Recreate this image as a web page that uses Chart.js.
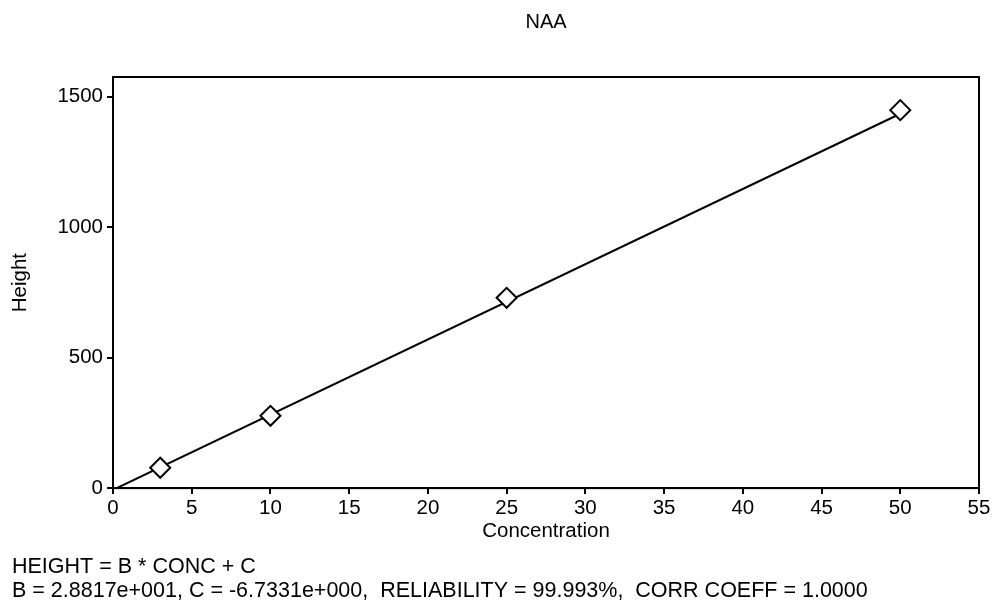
<!DOCTYPE html>
<html>
<head>
<meta charset="utf-8">
<title>NAA</title>
<script src="https://cdn.jsdelivr.net/npm/chart.js@4/dist/chart.umd.min.js"></script>
<style>
  html, body { margin: 0; padding: 0; background: #fff; }
  #wrap { width: 1000px; height: 607px; position: relative; }
</style>
</head>
<body>
<div id="wrap"><canvas id="graphCanvas"></canvas></div>
<script>
// calibration standards
var concentration = [3, 10, 25, 50];
var height = [78, 277, 729, 1448];

// fitted line HEIGHT = B * CONC + C
var B = 28.817;
var C = -6.7331;
var fitRange = [0, 50];

var xTicks = [0, 5, 10, 15, 20, 25, 30, 35, 40, 45, 50, 55];
var yTicks = [0, 500, 1000, 1500];

var footerLines = [
    'HEIGHT = B * CONC + C',
    'B = 2.8817e+001, C = -6.7331e+000,  RELIABILITY = 99.993%,  CORR COEFF = 1.0000'
];

var FONT = "'Liberation Sans', Arial, sans-serif";

var points = [];
for (var i in concentration) {
    points.push({ x: concentration[i], y: height[i] });
}
var fitLine = [];
for (var j in fitRange) {
    fitLine.push({ x: fitRange[j], y: B * fitRange[j] + C });
}

// box round the plot area (top and right sides aren't drawn by the scales)
var frame = {
    id: 'frame',
    afterDatasetsDraw: function (chart) {
        var a = chart.chartArea;
        var ctx = chart.ctx;
        ctx.save();
        ctx.strokeStyle = '#000';
        ctx.lineWidth = 2;
        ctx.strokeRect(a.left, a.top, a.right - a.left, a.bottom - a.top);
        ctx.restore();
    }
};

var graphTarget = document.getElementById('graphCanvas');

var ScatterGraph = new Chart(graphTarget, {
    type: 'scatter',
    data: {
        datasets: [
            {
                label: 'NAA',
                data: points,
                pointStyle: 'rectRot',
                pointRadius: 10,
                pointBorderWidth: 2,
                pointBorderColor: '#000',
                pointBackgroundColor: '#fff',
                showLine: false,
                order: 0
            },
            {
                label: 'fit',
                data: fitLine,
                showLine: true,
                borderColor: '#000',
                borderWidth: 2,
                pointRadius: 0,
                fill: false,
                order: 1
            }
        ]
    },
    plugins: [frame],
    options: {
        animation: false,
        responsive: true,
        maintainAspectRatio: false,
        layout: { padding: { left: 12, right: 21, top: 0, bottom: 0 } },
        plugins: {
            legend: { display: false },
            tooltip: { enabled: false },
            title: {
                display: true,
                fullSize: false,   // centre over the plot, not the canvas
                text: 'NAA',
                color: '#000',
                font: { family: FONT, size: 20, weight: 'normal', lineHeight: 1.2 },
                padding: { top: 10, bottom: 43 }
            },
            subtitle: {
                display: true,
                position: 'bottom',
                align: 'start',
                text: footerLines,
                color: '#000',
                font: { family: FONT, size: 21.5, weight: 'normal', lineHeight: 1.16 },
                padding: { top: 0, bottom: 3 }
            }
        },
        scales: {
            x: {
                type: 'linear',
                min: 0,
                max: 55,
                afterBuildTicks: function (axis) {
                    axis.ticks = xTicks.map(function (v) { return { value: v }; });
                },
                afterFit: function (axis) { axis.height = 66; },
                ticks: {
                    color: '#000',
                    font: { family: FONT, size: 20.5 },
                    padding: 2,
                    maxRotation: 0,
                    callback: function (v) { return String(v); }
                },
                grid: { display: true, drawOnChartArea: false, drawTicks: true, tickLength: 6, color: '#000', lineWidth: 2 },
                border: { display: true, color: '#000', width: 2 },
                title: {
                    display: true,
                    text: 'Concentration',
                    color: '#000',
                    font: { family: FONT, size: 20.5 },
                    padding: { top: 0, bottom: 10 }
                }
            },
            y: {
                type: 'linear',
                min: 0,
                max: 1575,
                afterBuildTicks: function (axis) {
                    axis.ticks = yTicks.map(function (v) { return { value: v }; });
                },
                afterFit: function (axis) { axis.width = 101; },
                ticks: {
                    color: '#000',
                    font: { family: FONT, size: 20.5 },
                    padding: 4,
                    callback: function (v) { return String(v); }
                },
                grid: { display: true, drawOnChartArea: false, drawTicks: true, tickLength: 6, color: '#000', lineWidth: 2 },
                border: { display: true, color: '#000', width: 2 },
                title: {
                    display: true,
                    text: 'Height',
                    color: '#000',
                    font: { family: FONT, size: 20.5 },
                    padding: { top: -4, bottom: 0 }
                }
            }
        }
    }
});
</script>
</body>
</html>
